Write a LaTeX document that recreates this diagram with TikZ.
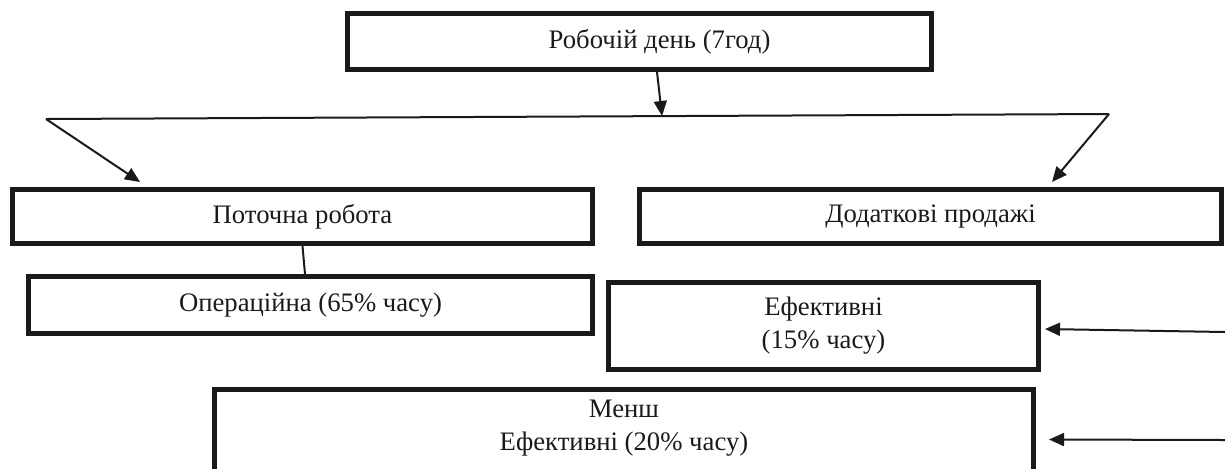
\documentclass[tikz,border=0pt]{standalone}
\usepackage{fontspec}
\setmainfont{Liberation Serif}
\usepackage{tikz}
\usetikzlibrary{arrows.meta,positioning,calc}
\definecolor{ink}{HTML}{1A1A1A}
\newlength\pxu
\setlength\pxu{0.5pt}
\tikzset{
  box/.style={draw=ink, rectangle, line width=5\pxu, align=center, inner sep=4pt,
              text=ink, font=\fontsize{13.35pt}{16.5pt}\selectfont},
  link/.style={draw=ink, line width=2\pxu},
  arrow/.style={link, -{Triangle[length=7.5pt, width=6.5pt]}}
}
\begin{document}
\begin{tikzpicture}[x=0.5pt,y=-0.5pt]
  \clip (0,0) rectangle (1225,468);

  % boxes
  \node[box, minimum width=584\pxu, minimum height=56\pxu] (day) at (639.5,41.5)
    {\hspace*{20pt}Робочій день (7год)};
  \node[box, minimum width=580\pxu, minimum height=54\pxu] (work) at (302.5,216.5)
    {Поточна робота};
  \node[box, minimum width=582\pxu, minimum height=54\pxu] (sales) at (930.5,216.5)
    {Додаткові продажі};
  \node[box, minimum width=564\pxu, minimum height=57\pxu] (ops) at (310.5,305)
    {Операційна (65\% часу)};
  \node[box, minimum width=430\pxu, minimum height=87\pxu] (eff) at (823.5,326)
    {Ефективні\\(15\% часу)};
  \node[box, anchor=north, minimum width=819\pxu, minimum height=140\pxu] (less) at (624,386.5) {};
  \node[align=center, text=ink, font=\fontsize{13.35pt}{16.5pt}\selectfont] (lessText)
    at ($(less.north)+(0,42)$) {Менш\\Ефективні (20\% часу)};

  % split line and free ends
  \coordinate (splitL) at (46,119);
  \coordinate (splitR) at (1109,114);
  \coordinate (split) at (662,116);
  \coordinate (effIn) at (1225,332);
  \coordinate (lessIn) at (1225,440);

  \draw[link] (splitL) -- (splitR);
  \draw[arrow] ([xshift=8.75pt]day.south) -- (split);
  \draw[arrow] (splitL) -- ([shift={(130,-5)}]work.north west);
  \draw[arrow] (splitR) -- ([shift={(-172,-5)}]sales.north east);
  \draw[link] (work.south) -- ([xshift=-2.75pt]ops.north);
  \draw[arrow] (effIn) -- ([shift={(4,3)}]eff.east);
  \draw[arrow] (lessIn) -- ([shift={(13,53)}]less.north east);
\end{tikzpicture}
\end{document}
